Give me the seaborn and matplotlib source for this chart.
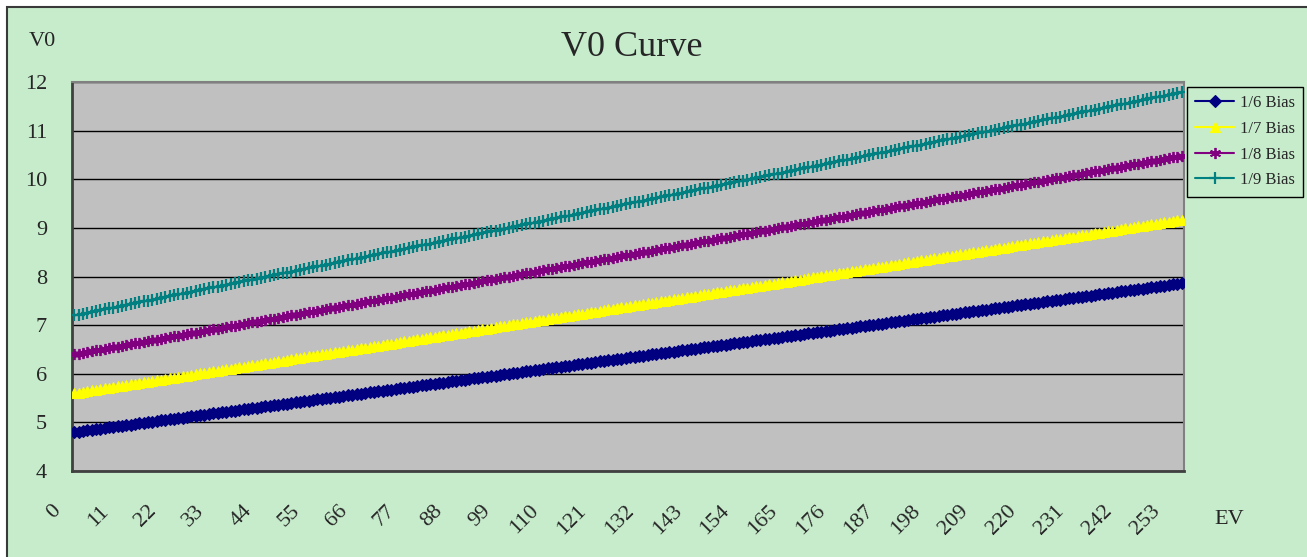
import numpy as np
import pandas as pd
import matplotlib
matplotlib.use("Agg")
import matplotlib.pyplot as plt
import matplotlib.transforms as mtransforms
from matplotlib.patches import Rectangle
import seaborn as sns

# EV codes 0..255 (categories on the x axis)
ev = list(range(256))
ev_tick_labels = ["0", "11", "22", "33", "44", "55", "66", "77", "88", "99",
                  "110", "121", "132", "143", "154", "165", "176", "187",
                  "198", "209", "220", "231", "242", "253"]
v0_ticks = [4, 5, 6, 7, 8, 9, 10, 11, 12]
series_names = ["1/6 Bias", "1/7 Bias", "1/8 Bias", "1/9 Bias"]

# V0 in millivolts, one value per EV code
bias_1_6_mv = [
    4800, 4812, 4824, 4836, 4848, 4860, 4872, 4884, 4896, 4908, 4920, 4932, 4944, 4956, 4968, 4980,
    4992, 5004, 5016, 5028, 5040, 5052, 5064, 5076, 5088, 5100, 5112, 5124, 5136, 5148, 5160, 5172,
    5184, 5196, 5208, 5220, 5232, 5244, 5256, 5268, 5280, 5292, 5304, 5316, 5328, 5340, 5352, 5364,
    5376, 5388, 5400, 5412, 5424, 5436, 5448, 5460, 5472, 5484, 5496, 5508, 5520, 5532, 5544, 5556,
    5568, 5580, 5592, 5604, 5616, 5628, 5640, 5652, 5664, 5676, 5688, 5700, 5712, 5724, 5736, 5748,
    5760, 5772, 5784, 5796, 5808, 5820, 5832, 5844, 5856, 5868, 5880, 5892, 5904, 5916, 5928, 5940,
    5952, 5964, 5976, 5988, 6000, 6012, 6024, 6036, 6048, 6060, 6072, 6084, 6096, 6108, 6120, 6132,
    6144, 6156, 6168, 6180, 6192, 6204, 6216, 6228, 6240, 6252, 6264, 6276, 6288, 6300, 6312, 6324,
    6336, 6348, 6360, 6372, 6384, 6396, 6408, 6420, 6432, 6444, 6456, 6468, 6480, 6492, 6504, 6516,
    6528, 6540, 6552, 6564, 6576, 6588, 6600, 6612, 6624, 6636, 6648, 6660, 6672, 6684, 6696, 6708,
    6720, 6732, 6744, 6756, 6768, 6780, 6792, 6804, 6816, 6828, 6840, 6852, 6864, 6876, 6888, 6900,
    6912, 6924, 6936, 6948, 6960, 6972, 6984, 6996, 7008, 7020, 7032, 7044, 7056, 7068, 7080, 7092,
    7104, 7116, 7128, 7140, 7152, 7164, 7176, 7188, 7200, 7212, 7224, 7236, 7248, 7260, 7272, 7284,
    7296, 7308, 7320, 7332, 7344, 7356, 7368, 7380, 7392, 7404, 7416, 7428, 7440, 7452, 7464, 7476,
    7488, 7500, 7512, 7524, 7536, 7548, 7560, 7572, 7584, 7596, 7608, 7620, 7632, 7644, 7656, 7668,
    7680, 7692, 7704, 7716, 7728, 7740, 7752, 7764, 7776, 7788, 7800, 7812, 7824, 7836, 7848, 7860,
]
bias_1_7_mv = [
    5600, 5614, 5628, 5642, 5656, 5670, 5684, 5698, 5712, 5726, 5740, 5754, 5768, 5782, 5796, 5810,
    5824, 5838, 5852, 5866, 5880, 5894, 5908, 5922, 5936, 5950, 5964, 5978, 5992, 6006, 6020, 6034,
    6048, 6062, 6076, 6090, 6104, 6118, 6132, 6146, 6160, 6174, 6188, 6202, 6216, 6230, 6244, 6258,
    6272, 6286, 6300, 6314, 6328, 6342, 6356, 6370, 6384, 6398, 6412, 6426, 6440, 6454, 6468, 6482,
    6496, 6510, 6524, 6538, 6552, 6566, 6580, 6594, 6608, 6622, 6636, 6650, 6664, 6678, 6692, 6706,
    6720, 6734, 6748, 6762, 6776, 6790, 6804, 6818, 6832, 6846, 6860, 6874, 6888, 6902, 6916, 6930,
    6944, 6958, 6972, 6986, 7000, 7014, 7028, 7042, 7056, 7070, 7084, 7098, 7112, 7126, 7140, 7154,
    7168, 7182, 7196, 7210, 7224, 7238, 7252, 7266, 7280, 7294, 7308, 7322, 7336, 7350, 7364, 7378,
    7392, 7406, 7420, 7434, 7448, 7462, 7476, 7490, 7504, 7518, 7532, 7546, 7560, 7574, 7588, 7602,
    7616, 7630, 7644, 7658, 7672, 7686, 7700, 7714, 7728, 7742, 7756, 7770, 7784, 7798, 7812, 7826,
    7840, 7854, 7868, 7882, 7896, 7910, 7924, 7938, 7952, 7966, 7980, 7994, 8008, 8022, 8036, 8050,
    8064, 8078, 8092, 8106, 8120, 8134, 8148, 8162, 8176, 8190, 8204, 8218, 8232, 8246, 8260, 8274,
    8288, 8302, 8316, 8330, 8344, 8358, 8372, 8386, 8400, 8414, 8428, 8442, 8456, 8470, 8484, 8498,
    8512, 8526, 8540, 8554, 8568, 8582, 8596, 8610, 8624, 8638, 8652, 8666, 8680, 8694, 8708, 8722,
    8736, 8750, 8764, 8778, 8792, 8806, 8820, 8834, 8848, 8862, 8876, 8890, 8904, 8918, 8932, 8946,
    8960, 8974, 8988, 9002, 9016, 9030, 9044, 9058, 9072, 9086, 9100, 9114, 9128, 9142, 9156, 9170,
]
bias_1_8_mv = [
    6400, 6416, 6432, 6448, 6464, 6480, 6496, 6512, 6528, 6544, 6560, 6576, 6592, 6608, 6624, 6640,
    6656, 6672, 6688, 6704, 6720, 6736, 6752, 6768, 6784, 6800, 6816, 6832, 6848, 6864, 6880, 6896,
    6912, 6928, 6944, 6960, 6976, 6992, 7008, 7024, 7040, 7056, 7072, 7088, 7104, 7120, 7136, 7152,
    7168, 7184, 7200, 7216, 7232, 7248, 7264, 7280, 7296, 7312, 7328, 7344, 7360, 7376, 7392, 7408,
    7424, 7440, 7456, 7472, 7488, 7504, 7520, 7536, 7552, 7568, 7584, 7600, 7616, 7632, 7648, 7664,
    7680, 7696, 7712, 7728, 7744, 7760, 7776, 7792, 7808, 7824, 7840, 7856, 7872, 7888, 7904, 7920,
    7936, 7952, 7968, 7984, 8000, 8016, 8032, 8048, 8064, 8080, 8096, 8112, 8128, 8144, 8160, 8176,
    8192, 8208, 8224, 8240, 8256, 8272, 8288, 8304, 8320, 8336, 8352, 8368, 8384, 8400, 8416, 8432,
    8448, 8464, 8480, 8496, 8512, 8528, 8544, 8560, 8576, 8592, 8608, 8624, 8640, 8656, 8672, 8688,
    8704, 8720, 8736, 8752, 8768, 8784, 8800, 8816, 8832, 8848, 8864, 8880, 8896, 8912, 8928, 8944,
    8960, 8976, 8992, 9008, 9024, 9040, 9056, 9072, 9088, 9104, 9120, 9136, 9152, 9168, 9184, 9200,
    9216, 9232, 9248, 9264, 9280, 9296, 9312, 9328, 9344, 9360, 9376, 9392, 9408, 9424, 9440, 9456,
    9472, 9488, 9504, 9520, 9536, 9552, 9568, 9584, 9600, 9616, 9632, 9648, 9664, 9680, 9696, 9712,
    9728, 9744, 9760, 9776, 9792, 9808, 9824, 9840, 9856, 9872, 9888, 9904, 9920, 9936, 9952, 9968,
    9984, 10000, 10016, 10032, 10048, 10064, 10080, 10096, 10112, 10128, 10144, 10160, 10176, 10192, 10208, 10224,
    10240, 10256, 10272, 10288, 10304, 10320, 10336, 10352, 10368, 10384, 10400, 10416, 10432, 10448, 10464, 10480,
]
bias_1_9_mv = [
    7200, 7218, 7236, 7254, 7272, 7290, 7308, 7326, 7344, 7362, 7380, 7398, 7416, 7434, 7452, 7470,
    7488, 7506, 7524, 7542, 7560, 7578, 7596, 7614, 7632, 7650, 7668, 7686, 7704, 7722, 7740, 7758,
    7776, 7794, 7812, 7830, 7848, 7866, 7884, 7902, 7920, 7938, 7956, 7974, 7992, 8010, 8028, 8046,
    8064, 8082, 8100, 8118, 8136, 8154, 8172, 8190, 8208, 8226, 8244, 8262, 8280, 8298, 8316, 8334,
    8352, 8370, 8388, 8406, 8424, 8442, 8460, 8478, 8496, 8514, 8532, 8550, 8568, 8586, 8604, 8622,
    8640, 8658, 8676, 8694, 8712, 8730, 8748, 8766, 8784, 8802, 8820, 8838, 8856, 8874, 8892, 8910,
    8928, 8946, 8964, 8982, 9000, 9018, 9036, 9054, 9072, 9090, 9108, 9126, 9144, 9162, 9180, 9198,
    9216, 9234, 9252, 9270, 9288, 9306, 9324, 9342, 9360, 9378, 9396, 9414, 9432, 9450, 9468, 9486,
    9504, 9522, 9540, 9558, 9576, 9594, 9612, 9630, 9648, 9666, 9684, 9702, 9720, 9738, 9756, 9774,
    9792, 9810, 9828, 9846, 9864, 9882, 9900, 9918, 9936, 9954, 9972, 9990, 10008, 10026, 10044, 10062,
    10080, 10098, 10116, 10134, 10152, 10170, 10188, 10206, 10224, 10242, 10260, 10278, 10296, 10314, 10332, 10350,
    10368, 10386, 10404, 10422, 10440, 10458, 10476, 10494, 10512, 10530, 10548, 10566, 10584, 10602, 10620, 10638,
    10656, 10674, 10692, 10710, 10728, 10746, 10764, 10782, 10800, 10818, 10836, 10854, 10872, 10890, 10908, 10926,
    10944, 10962, 10980, 10998, 11016, 11034, 11052, 11070, 11088, 11106, 11124, 11142, 11160, 11178, 11196, 11214,
    11232, 11250, 11268, 11286, 11304, 11322, 11340, 11358, 11376, 11394, 11412, 11430, 11448, 11466, 11484, 11502,
    11520, 11538, 11556, 11574, 11592, 11610, 11628, 11646, 11664, 11682, 11700, 11718, 11736, 11754, 11772, 11790,
]

# ---- styling ----
CHART_BG = "#C7ECCC"
PLOT_BG = "#C0C0C0"
line_colors = ["#000080", "#FFFF00", "#800080", "#008080"]
line_markers = ["D", "^", (6, 2, 0), "+"]
marker_sizes = [6.0, 7.5, 8.0, 9.0]
marker_edge_widths = [0.8, 0.8, 1.3, 1.6]

sns.set_style("white")
plt.rcParams["font.family"] = ["Liberation Serif", "DejaVu Serif"]

W, H = 1307, 557
fig = plt.figure(figsize=(W / 100, H / 100), dpi=100, facecolor="white")

# green chart area with dark frame (runs past right/bottom edges)
fig.add_artist(Rectangle((7 / W, -0.05), 1.2, 1 - 7 / H + 0.05,
                         transform=fig.transFigure, facecolor=CHART_BG,
                         edgecolor="#3a3a3a", linewidth=1.5, zorder=-10))

ax = fig.add_axes([72 / W, 1 - 471 / H, (1184 - 72) / W, (471 - 82) / H])
ax.set_facecolor(PLOT_BG)

# long-form table of all series
df = pd.DataFrame({
    "EV": ev * 4,
    "V0": np.concatenate([bias_1_6_mv, bias_1_7_mv, bias_1_8_mv, bias_1_9_mv]) / 1000.0,
    "Series": np.repeat(series_names, len(ev)),
})

for name, col, mk, ms, mew in zip(series_names, line_colors, line_markers,
                                  marker_sizes, marker_edge_widths):
    sub = df[df["Series"] == name]
    sns.lineplot(data=sub, x="EV", y="V0", ax=ax, color=col, marker=mk,
                 markersize=ms, markeredgecolor=col, markerfacecolor=col,
                 markeredgewidth=mew, linewidth=1.5, estimator=None,
                 errorbar=None, label=name, legend=False, zorder=3)

# axes limits and ticks
ax.set_xlim(-0.5, len(ev) - 0.5)
ax.set_ylim(v0_ticks[0], v0_ticks[-1])
ax.set_yticks(v0_ticks)
ax.set_yticklabels([str(v) for v in v0_ticks])
tick_pos = [int(s) for s in ev_tick_labels]
ax.set_xticks(tick_pos)
ax.set_xticklabels(ev_tick_labels)
ax.set_xticks(np.arange(-0.5, len(ev), 1.0), minor=True)
ax.set_xlabel("")
ax.set_ylabel("")

ax.tick_params(axis="x", which="major", length=0, pad=22, labelsize=16)
ax.tick_params(axis="x", which="minor", direction="in", length=7, width=1,
               color="black")
ax.tick_params(axis="y", which="major", direction="in", length=8, width=1,
               color="black", pad=18, labelsize=16)

shift = mtransforms.ScaledTranslation(-23 / 100, 0, fig.dpi_scale_trans)
for lbl in ax.get_xticklabels():
    lbl.set_rotation(45)
    lbl.set_rotation_mode("anchor")
    lbl.set_ha("right")
    lbl.set_va("top")
    lbl.set_transform(lbl.get_transform() + shift)

ax.grid(axis="y", color="black", linewidth=1)
ax.grid(axis="x", visible=False)
ax.set_axisbelow(True)

for side in ["left", "bottom"]:
    ax.spines[side].set_color("#404040")
    ax.spines[side].set_linewidth(2)
for side in ["top", "right"]:
    ax.spines[side].set_color("#808080")
    ax.spines[side].set_linewidth(1.5)

# legend to the right of the plot area
handles = ax.get_lines()[:len(series_names)]
leg = ax.legend(handles, series_names, loc="upper left",
                bbox_to_anchor=(1187 / W, 1 - 87 / H),
                bbox_transform=fig.transFigure, frameon=True, fancybox=False,
                edgecolor="black", facecolor=CHART_BG, framealpha=1,
                fontsize=12, handlelength=2.3, handletextpad=0.35,
                borderpad=0.5, labelspacing=0.58, borderaxespad=0)
leg.get_frame().set_linewidth(1)

# titles and axis captions
fig.text(632 / W, 1 - 47 / H, "V0 Curve", fontsize=26, ha="center", va="center")
fig.text(42 / W, 1 - 41 / H, "V0", fontsize=16, ha="center", va="center")
fig.text(1229 / W, 1 - 519 / H, "EV", fontsize=16, ha="center", va="center")

fig.savefig("out.png", dpi=100, facecolor="white")
